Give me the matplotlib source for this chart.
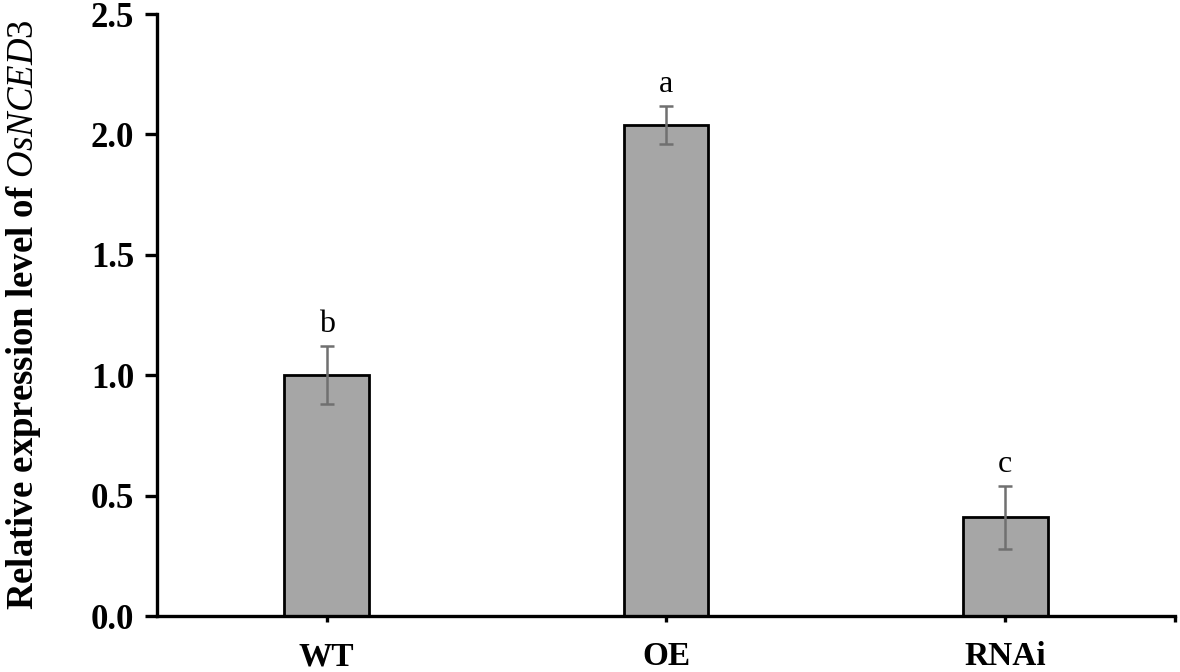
import matplotlib
matplotlib.use("Agg")
import matplotlib.pyplot as plt
from matplotlib.ticker import FixedLocator

categories = ["WT", "OE", "RNAi"]
values = [1.00, 2.04, 0.41]
errors = [0.12, 0.08, 0.13]
letters = ["b", "a", "c"]
yticks = [0.0, 0.5, 1.0, 1.5, 2.0, 2.5]

plt.rcParams['font.family'] = ['Liberation Serif', 'DejaVu Serif']
plt.rcParams['mathtext.fontset'] = 'custom'
plt.rcParams['mathtext.it'] = 'Liberation Serif:italic'
plt.rcParams['mathtext.rm'] = 'Liberation Serif'
plt.rcParams['mathtext.bf'] = 'Liberation Serif:bold'

fig = plt.figure(figsize=(11.8, 6.72), dpi=100)
ax = fig.add_axes([0.133, 0.0833, 0.8628, 0.8957])

x = list(range(len(categories)))
ax.bar(x, values, width=0.25, color="#a6a6a6", edgecolor="black", linewidth=2.0, zorder=2)
ax.errorbar(x, values, yerr=errors, fmt="none", ecolor="#707070", elinewidth=1.8,
            capsize=5, capthick=1.8, zorder=3)

for xi, v, e, lab in zip(x, values, errors, letters):
    ax.annotate(lab, xy=(xi, v + e), xytext=(0, 10), textcoords="offset points",
                ha="center", va="baseline", fontsize=23)

ax.set_xlim(-0.5, 2.5)
ax.set_ylim(0, 2.5)
ax.set_xticks(x)
ax.set_xticklabels(categories, fontsize=24, fontweight="bold")
ax.xaxis.set_minor_locator(FixedLocator([2.5]))
ax.set_yticks(yticks)
ax.set_yticklabels([f"{t:.1f}" for t in yticks], fontsize=25, fontweight="bold")

for s in ["top", "right"]:
    ax.spines[s].set_visible(False)
for s in ["left", "bottom"]:
    ax.spines[s].set_linewidth(2.4)

ax.tick_params(axis="y", direction="out", length=8.5, width=2.4, pad=8)
ax.tick_params(axis="x", which="both", direction="out", length=4, width=2.4, pad=14)

ax.set_ylabel("Relative expression level of $\\mathit{OsNCED3}$", fontsize=26.5,
              fontweight="bold", labelpad=34)

fig.savefig("out.png", dpi=100)
